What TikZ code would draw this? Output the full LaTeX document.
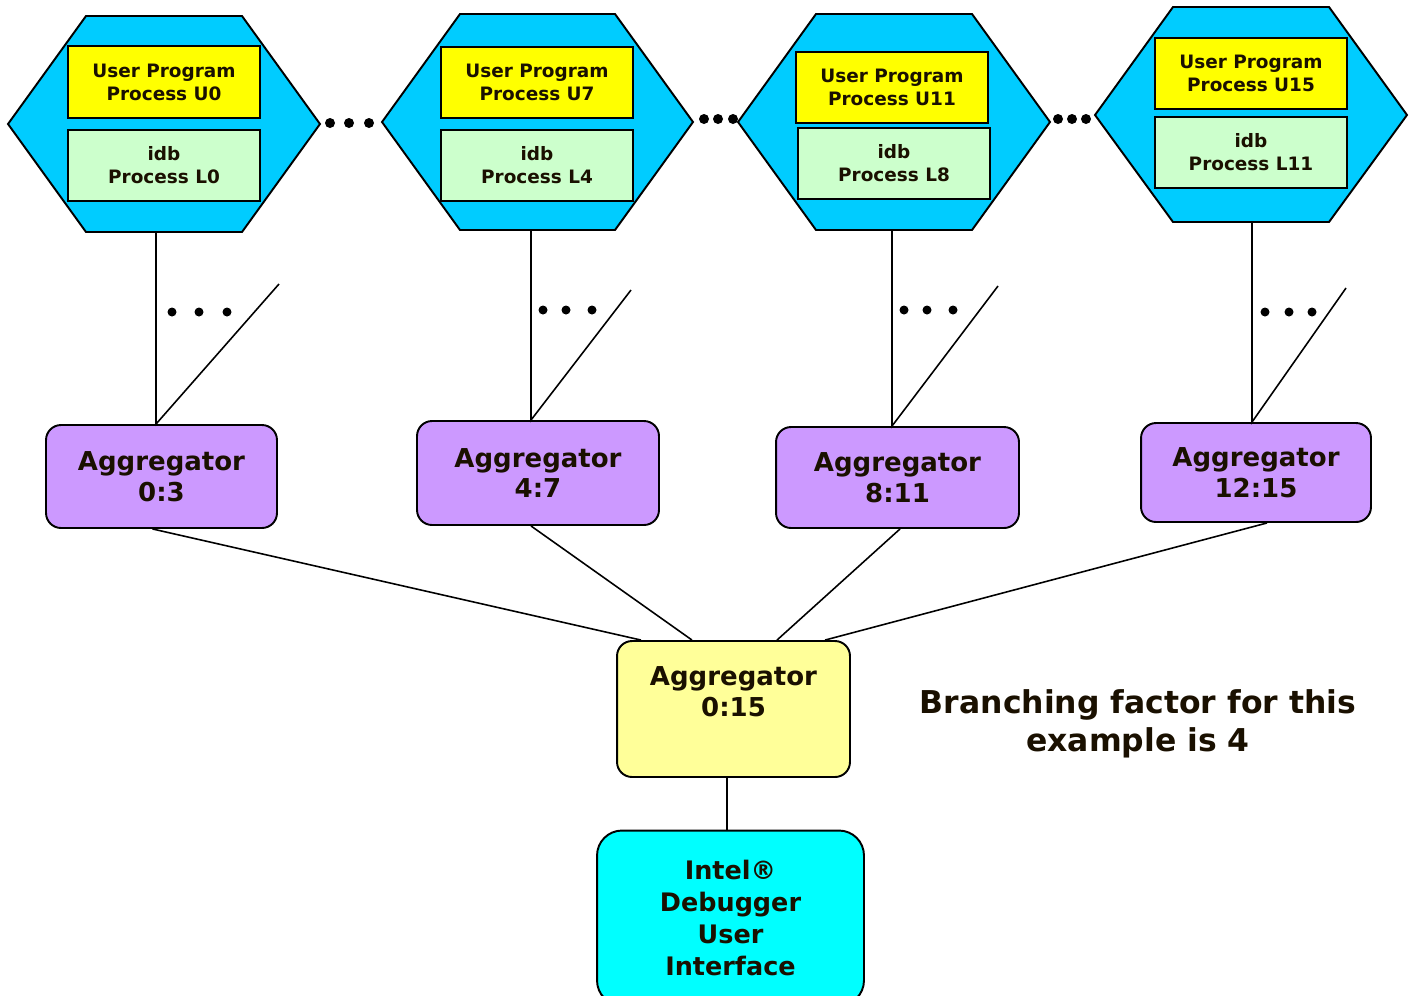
\documentclass[tikz,border=0pt]{standalone}
\usepackage{fontspec}
\setmainfont{DejaVu Sans}
\usetikzlibrary{calc}
\definecolor{hexblue}{HTML}{00CCFF}
\definecolor{upyellow}{HTML}{FFFF00}
\definecolor{idbgreen}{HTML}{CCFFCC}
\definecolor{aggpurple}{HTML}{CC99FF}
\definecolor{rootyellow}{HTML}{FFFF99}
\definecolor{uicyan}{HTML}{00FFFF}
\definecolor{txt}{HTML}{1A1000}
\tikzset{
  hexshape/.style={draw=black, line width=1.1pt, fill=hexblue, line join=miter},
  procbox/.style={draw=black, line width=1.1pt, minimum width=3.84cm, minimum height=1.43cm, inner sep=0pt, align=center, text=txt,
    font=\fontsize{10.5}{13}\selectfont\bfseries},
  upbox/.style={procbox, fill=upyellow},
  idbbox/.style={procbox, fill=idbgreen},
  aggbox/.style={draw=black, line width=1.1pt, fill=aggpurple, rounded corners=0.3cm, inner sep=0pt, align=center, text=txt,
    font=\fontsize{14.8}{17.6}\selectfont\bfseries},
  conn/.style={draw=black, line width=0.9pt},
  dotmark/.style={fill=black},
}
\begin{document}
\begin{tikzpicture}[x=0.02cm, y=-0.02cm]
\useasboundingbox (0,0) rectangle (1415,995);

% hexagons
\draw[hexshape] (8,124) -- (86,16) -- (242,16) -- (320,124) -- (242,232) -- (86,232) -- cycle;
\draw[hexshape] (382,122) -- (460,14) -- (615,14) -- (693,122) -- (615,230) -- (460,230) -- cycle;
\draw[hexshape] (738,122) -- (816,14) -- (972,14) -- (1050,122) -- (972,230) -- (816,230) -- cycle;
\draw[hexshape] (1095,115) -- (1173,7) -- (1329,7) -- (1407,115) -- (1329,222) -- (1173,222) -- cycle;

\coordinate (h1b) at (156,232);
\coordinate (h2b) at (531,230);
\coordinate (h3b) at (892,230);
\coordinate (h4b) at (1252,222);

% process boxes
\node[upbox]  (u0)  at (164,82)   {User Program\\Process U0};
\node[idbbox] (l0)  at (164,165.5) {idb\\Process L0};
\node[upbox]  (u7)  at (537,82.5) {User Program\\Process U7};
\node[idbbox] (l4)  at (537,165.5) {idb\\Process L4};
\node[upbox]  (u11) at (892,87.5) {User Program\\Process U11};
\node[idbbox] (l8)  at (894,163.5) {idb\\Process L8};
\node[upbox]  (u15) at (1251,73.5) {User Program\\Process U15};
\node[idbbox] (l11) at (1251,152.5) {idb\\Process L11};

% dots between hexagons
\foreach \x in {330,349,369} \fill[dotmark] (\x,123) circle (5);
\foreach \x in {704,718,733} \fill[dotmark] (\x,119) circle (5);
\foreach \x in {1058,1072,1086} \fill[dotmark] (\x,119) circle (5);

% aggregators
\node[aggbox, minimum width=4.62cm, minimum height=2.06cm] (a1) at (161.5,476.5) {Aggregator\\0:3};
\node[aggbox, minimum width=4.84cm, minimum height=2.08cm] (a2) at (538,473) {Aggregator\\4:7};
\node[aggbox, minimum width=4.86cm, minimum height=2.02cm] (a3) at (897.5,477.5) {Aggregator\\8:11};
\node[aggbox, minimum width=4.60cm, minimum height=1.98cm] (a4) at (1256,472.5) {Aggregator\\12:15};

% free ends of the fan lines
\coordinate (d1) at (279,284);
\coordinate (d2) at (631,290);
\coordinate (d3) at (998,286);
\coordinate (d4) at (1346,288);

\draw[conn] (h1b) -- (h1b |- a1.north) -- (d1);
\draw[conn] (h2b) -- (h2b |- a2.north) -- (d2);
\draw[conn] (h3b) -- (h3b |- a3.north) -- (d3);
\draw[conn] (h4b) -- (h4b |- a4.north) -- (d4);

\foreach \x in {172,199,227} \fill[dotmark] (\x,312) circle (4.5);
\foreach \x in {543,566,592} \fill[dotmark] (\x,310) circle (4.5);
\foreach \x in {904,927,953} \fill[dotmark] (\x,310) circle (4.5);
\foreach \x in {1265,1289,1312} \fill[dotmark] (\x,312) circle (4.5);

% root aggregator
\node[aggbox, fill=rootyellow, minimum width=4.66cm, minimum height=2.72cm] (root) at (733.5,709) {};
\node[anchor=north, align=center, text=txt, inner sep=0pt, font=\fontsize{14.8}{17.6}\selectfont\bfseries] (roottext) at (733.5,666) {Aggregator\\0:15};

\draw[conn] ($(a1.south)+(-9,0)$) -- ($(root.north)+(-92.5,0)$);
\draw[conn] ($(a2.south)+(-7,0)$) -- ($(root.north)+(-41.5,0)$);
\draw[conn] ($(a3.south)+(2.5,0)$) -- ($(root.north)+(43.5,0)$);
\draw[conn] ($(a4.south)+(11,0)$) -- ($(root.north)+(91.5,0)$);

% user interface
\node[draw=black, line width=1.1pt, fill=uicyan, rounded corners=0.5cm, minimum width=5.34cm, minimum height=3.5cm, inner sep=0pt, align=center, text=txt,
  font=\fontsize{14.5}{18.2}\selectfont\bfseries] (ui) at (730.5,918) {Intel®\\Debugger\\User\\Interface};

\draw[conn] ($(root.south)+(-6.5,0)$) -- ($(ui.north)+(-3.5,0)$);

% note
\node[align=center, text=txt, inner sep=0pt, font=\fontsize{17.9}{21.6}\selectfont\bfseries] (note) at (1138,724) {Branching factor for this\\example is 4};
\end{tikzpicture}
\end{document}
